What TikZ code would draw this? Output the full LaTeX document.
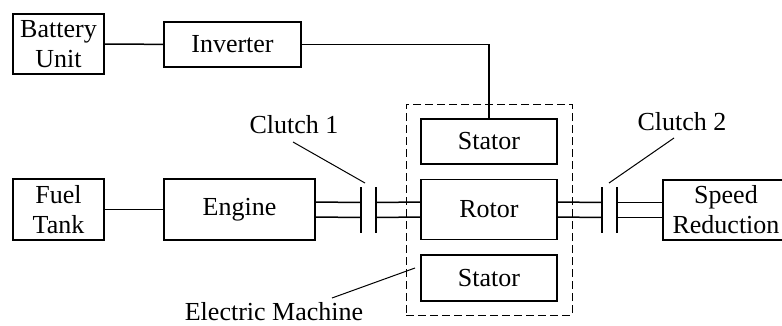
\documentclass[tikz,border=0pt]{standalone}
\usepackage{fontspec}
\setmainfont{Liberation Serif}
\usetikzlibrary{calc}
\begin{document}
\begin{tikzpicture}[x=1pt,y=-1pt, line width=1.5pt,
  box/.style={draw, rectangle, inner sep=0pt, align=center, font=\fontsize{26}{31}\selectfont},
  lbl/.style={font=\fontsize{26}{30}\selectfont, inner sep=0pt, anchor=base},
  leader/.style={line width=1pt},
  shaft/.style={line width=1.5pt},
  plate/.style={line width=1.5pt},
  frame/.style={draw, line width=1pt, dash pattern=on 8pt off 4pt}]
\useasboundingbox (0,0) rectangle (782,325);
\clip (0,0) rectangle (782,325);
% boxes
\node[box, minimum width=91pt, minimum height=60pt] (bat) at (58.5,44) {Battery\\[-1pt]Unit};
\node[box, minimum width=137pt, minimum height=45pt] (inv) at (232.5,44.5) {Inverter};
\node[box, minimum width=91pt, minimum height=61pt] (fuel) at (58.5,209.5) {Fuel\\[-1pt]Tank};
\node[box, minimum width=151pt, minimum height=61pt] (eng) at (239.5,209.5) {Engine};
\node[box, minimum width=136pt, minimum height=45pt] (st1) at (489,141.5) {Stator};
\node[box, minimum width=136pt, minimum height=60pt] (rot) at (489,209.5) {Rotor};
\node[box, minimum width=136pt, minimum height=46pt] (st2) at (489,278) {Stator};
\node[box, minimum width=126pt, minimum height=60pt] (spd) at (726,210) {Speed\\[-1pt]Reduction};
% dashed electric machine frame
\node[frame, minimum width=166pt, minimum height=211pt] (em) at (489,209.5) {};
% clutch plates
\coordinate (p1) at (361,210);
\coordinate (p2) at (376,210);
\coordinate (p3) at (602,210);
\coordinate (p4) at (617,210);
\foreach \p in {p1,p2,p3,p4}{
  \draw[plate] ([yshift=23pt]\p) -- ([yshift=-23pt]\p);
}
% shafts
\foreach \a/\b in {eng/p1, p2/rot, rot/p3, p4/spd}{
  \draw[shaft] ([yshift=7.5pt]\a.east) -- ([yshift=7.5pt]\b.west);
  \draw[shaft] ([yshift=-7.5pt]\a.east) -- ([yshift=-7.5pt]\b.west);
}
% electrical connections
\draw (bat) -- (inv);
\draw (fuel) -- (eng);
\draw (inv.east) -| (st1.north);
% labels
\node[lbl] (c1) at (294,133) {Clutch 1};
\node[lbl] (c2) at (682,130) {Clutch 2};
\node[lbl] (emlab) at (274,320) {Electric Machine};
\coordinate (c1start) at (293,142);
\coordinate (c2start) at (674,138);
\coordinate (emstart) at (332,298);
\coordinate (c1end) at (365,183);
\coordinate (c2end) at (609,183);
\coordinate (emend) at (415,268);
\draw[leader] (c1start) -- (c1end);
\draw[leader] (c2start) -- (c2end);
\draw[leader] (emstart) -- (emend);
\end{tikzpicture}
\end{document}
